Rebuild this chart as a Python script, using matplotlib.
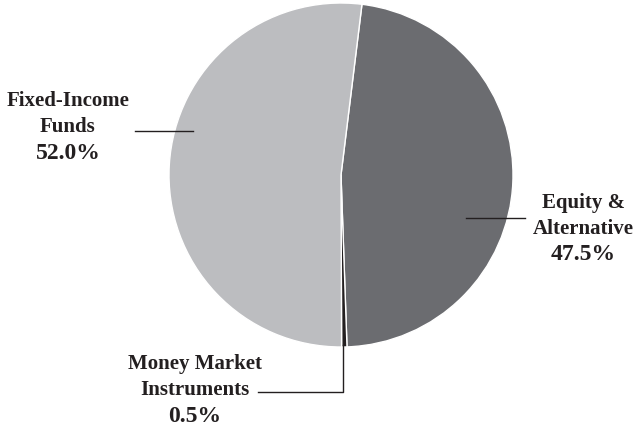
import matplotlib
matplotlib.use("Agg")
from matplotlib import pyplot as plt

# allocation data (percent)
categories = ["Equity &\nAlternative", "Money Market\nInstruments", "Fixed-Income\nFunds"]
shares = [47.5, 0.5, 52.0]
colors = ["#6b6c70", "#231f20", "#bcbdc0"]

W, H = 638, 428
fig = plt.figure(figsize=(W / 100, H / 100), dpi=100)
ax = fig.add_axes([0, 0, 1, 1])

cx, cy, R = 341, H - 175, 172
ax.pie(shares, colors=colors, startangle=83, counterclock=False,
       center=(cx, cy), radius=R, frame=True,
       wedgeprops=dict(edgecolor="white", linewidth=1.0))
ax.set_xlim(0, W)
ax.set_ylim(0, H)
ax.set_aspect("equal")
ax.axis("off")

ink = "#231f20"
fname = dict(family="Liberation Serif", fontweight="bold", color=ink, ha="center", va="center")

def label(x, y, name, pct):
    lines = name.split("\n")
    ax.text(x, H - y, lines[0], fontsize=15, **fname)
    ax.text(x, H - y - 26, lines[1], fontsize=15, **fname)
    ax.text(x, H - y - 52, f"{pct:.1f}%", fontsize=17, **fname)

label(583, 203, categories[0], shares[0])
label(195, 364, categories[1], shares[1])
label(68, 101, categories[2], shares[2])

# leader lines
ax.plot([466, 525], [H - 218, H - 218], color=ink, lw=1)
ax.plot([135, 193], [H - 131, H - 131], color=ink, lw=1)
ax.plot([343, 343, 258], [H - 345, H - 392, H - 392], color=ink, lw=1)

fig.savefig("out.png", dpi=100, facecolor="white")
